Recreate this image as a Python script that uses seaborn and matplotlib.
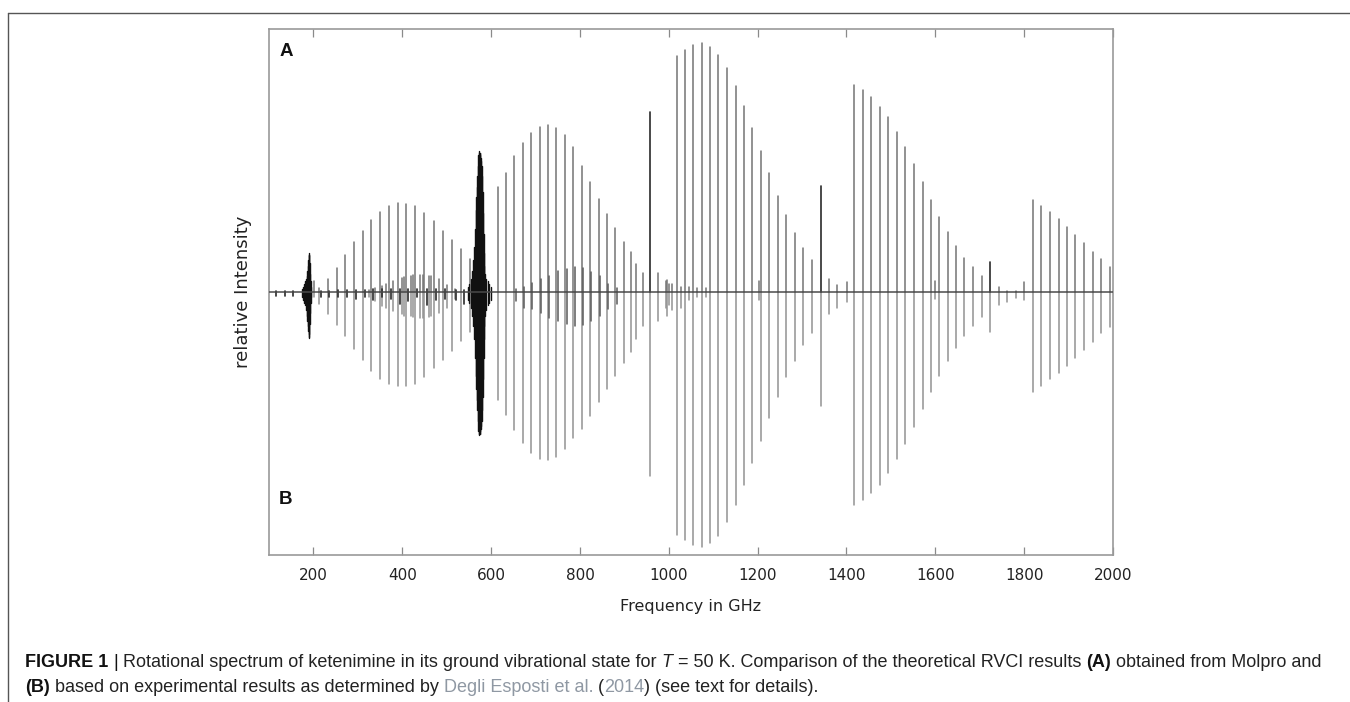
import matplotlib
matplotlib.use("Agg")
import matplotlib.pyplot as plt
from matplotlib.lines import Line2D
import pandas as pd
import seaborn as sns

# ---------------- data (GHz, relative intensity) ----------------
# narrow cluster near 190 GHz (dark)
c1_freq = [174, 177, 179, 181, 183, 185, 186, 187, 188, 189, 190, 191, 192, 193, 194, 195]
c1_up = [0.01, 0.02, 0.03, 0.04, 0.05, 0.06, 0.08, 0.10, 0.12, 0.14, 0.147, 0.14, 0.11, 0.07, 0.04, 0.02]
c1_down = [0.02, 0.03, 0.04, 0.05, 0.07, 0.09, 0.11, 0.13, 0.15, 0.17, 0.174, 0.16, 0.12, 0.08, 0.04, 0.02]

# dense cluster near 575 GHz (dark)
c2_freq = [548, 551, 554, 557, 559, 561, 563, 565, 567, 568, 569, 570, 571, 572, 573, 574,
           575, 576, 577, 578, 579, 580, 581, 582, 583, 584, 585, 587, 589, 592, 595, 599]
c2_up = [0.02, 0.03, 0.05, 0.08, 0.12, 0.17, 0.24, 0.31, 0.36, 0.40, 0.44, 0.48, 0.52, 0.53, 0.536, 0.53,
         0.52, 0.53, 0.51, 0.50, 0.48, 0.44, 0.38, 0.30, 0.22, 0.15, 0.10, 0.07, 0.05, 0.04, 0.03, 0.02]
c2_down = [0.03, 0.04, 0.06, 0.09, 0.13, 0.18, 0.25, 0.32, 0.37, 0.41, 0.45, 0.49, 0.53, 0.54, 0.542, 0.54,
           0.53, 0.54, 0.52, 0.51, 0.49, 0.45, 0.40, 0.33, 0.25, 0.18, 0.13, 0.09, 0.07, 0.05, 0.04, 0.03]

# grey comb 200-555 GHz
g1_freq = [201, 212.6, 232, 252.3, 271.8, 291.4, 310.9, 330.4, 349.9, 370.1,
           389.7, 409.2, 429.4, 449.7, 470.7, 491.7, 512, 532.2, 552.5]
g1_up = [0.04, 0.017, 0.05, 0.092, 0.14, 0.19, 0.233, 0.274, 0.306, 0.328,
         0.337, 0.335, 0.326, 0.30, 0.27, 0.233, 0.196, 0.162, 0.126]
g1_down = [0.02, 0.046, 0.084, 0.124, 0.169, 0.216, 0.26, 0.30, 0.329, 0.348,
           0.356, 0.356, 0.35, 0.322, 0.29, 0.26, 0.225, 0.188, 0.153]

# weak inner comb 320-520 GHz
g2_freq = [325, 338.6, 355, 362.6, 379, 398.7, 404, 419, 424, 441, 446.7, 460, 465.4, 482.7, 501.5, 518.7]
g2_up = [0.006, 0.014, 0.023, 0.03, 0.04, 0.054, 0.056, 0.061, 0.064, 0.065, 0.065, 0.06, 0.06, 0.048, 0.026, 0.01]
g2_down = [0.02, 0.036, 0.053, 0.059, 0.072, 0.084, 0.09, 0.092, 0.094, 0.097, 0.097, 0.094, 0.09, 0.078, 0.059, 0.028]

# small dark ticks at the baseline, 100-560 GHz
t_freq = [116, 136, 155, 217, 236, 256, 276, 296, 315, 335, 355, 374, 394, 414, 434, 455, 476, 497, 520, 540]
t_up = [0.003, 0.003, 0.003, 0.005, 0.005, 0.006, 0.006, 0.008, 0.008, 0.01, 0.01, 0.012, 0.012,
        0.012, 0.012, 0.012, 0.01, 0.01, 0.008, 0.006]
t_down = [0.015, 0.015, 0.015, 0.02, 0.02, 0.02, 0.02, 0.025, 0.02, 0.03, 0.02, 0.025, 0.045,
          0.035, 0.02, 0.05, 0.03, 0.025, 0.03, 0.045]

# grey comb 610-945 GHz
g3_freq = [614.8, 633.5, 652.3, 671.1, 690, 709, 728, 747, 766, 785,
           804, 823, 842, 861, 880, 899, 914, 927, 943]
g3_up = [0.40, 0.454, 0.516, 0.565, 0.606, 0.629, 0.636, 0.623, 0.597, 0.551,
         0.48, 0.42, 0.355, 0.295, 0.245, 0.19, 0.153, 0.108, 0.073]
g3_down = [0.41, 0.467, 0.523, 0.573, 0.614, 0.636, 0.64, 0.626, 0.598, 0.557,
           0.52, 0.47, 0.42, 0.37, 0.32, 0.27, 0.228, 0.18, 0.13]

# weak inner comb 650-885 GHz
g4_freq = [655, 674, 693, 712, 731, 751, 770, 789, 807, 826, 845, 864, 883]
g4_up = [0.01, 0.02, 0.034, 0.049, 0.062, 0.079, 0.088, 0.095, 0.092, 0.075, 0.06, 0.03, 0.015]
g4_down = [0.034, 0.059, 0.065, 0.078, 0.097, 0.109, 0.122, 0.128, 0.125, 0.11, 0.09, 0.065, 0.046]

# isolated strong lines (dark in A)
iso_freq = [957.7, 1342, 1723.4]
iso_up = [0.685, 0.404, 0.115]
iso_down = [0.70, 0.433, 0.151]

# weak lines between the bands
w_freq = [976.5, 993, 997, 1001, 1008, 1027, 1045, 1064, 1083, 1203, 1360.7, 1379.5, 1400.5,
          1600, 1742.9, 1762, 1781, 1800.4]
w_up = [0.073, 0.04, 0.045, 0.03, 0.03, 0.02, 0.02, 0.015, 0.015, 0.04, 0.048, 0.027, 0.039,
        0.04, 0.018, 0.005, 0.005, 0.039]
w_down = [0.109, 0.06, 0.09, 0.05, 0.07, 0.06, 0.03, 0.02, 0.02, 0.03, 0.085, 0.062, 0.037,
          0.028, 0.049, 0.037, 0.024, 0.03]

# strong band 1015-1325 GHz
s5_freq = [1017.7, 1036.5, 1054.5, 1074, 1092.8, 1111.5, 1131.2, 1150.6, 1169.3,
           1188.1, 1207.6, 1226.4, 1245.1, 1263.9, 1283.4, 1302.9, 1322.4]
s5_up = [0.897, 0.92, 0.939, 0.946, 0.933, 0.901, 0.85, 0.783, 0.707,
         0.625, 0.536, 0.451, 0.366, 0.293, 0.226, 0.168, 0.122]
s5_down = [0.924, 0.943, 0.962, 0.968, 0.956, 0.928, 0.876, 0.81, 0.734,
           0.649, 0.565, 0.478, 0.398, 0.322, 0.261, 0.203, 0.155]

# band 1415-1705 GHz
s6_freq = [1417.7, 1436.5, 1455.3, 1475.5, 1494.3, 1513, 1532.6, 1552.1,
           1571.6, 1590.4, 1609.2, 1628, 1646.7, 1665.5, 1684.3, 1704.6]
s6_up = [0.787, 0.768, 0.74, 0.705, 0.667, 0.61, 0.55, 0.486,
         0.417, 0.35, 0.286, 0.227, 0.175, 0.13, 0.094, 0.061]
s6_down = [0.81, 0.791, 0.765, 0.734, 0.689, 0.636, 0.578, 0.512,
           0.446, 0.381, 0.319, 0.262, 0.212, 0.166, 0.128, 0.096]

# band 1820-2000 GHz
s7_freq = [1820, 1838.7, 1859, 1877.8, 1896.6, 1915.3, 1934.9, 1954.4, 1973.9, 1992.7]
s7_up = [0.35, 0.327, 0.303, 0.278, 0.248, 0.217, 0.185, 0.153, 0.125, 0.096]
s7_down = [0.379, 0.357, 0.332, 0.307, 0.281, 0.25, 0.221, 0.189, 0.157, 0.132]

x_ticks = [200, 400, 600, 800, 1000, 1200, 1400, 1600, 1800, 2000]

# ---------------- build stick segments ----------------
rows = []
def add(group, freqs, heights, sign):
    for f, h in zip(freqs, heights):
        sid = len(rows) // 2
        rows.append({"freq": f, "y": 0.0, "seg": sid, "group": group})
        rows.append({"freq": f, "y": sign * h, "seg": sid, "group": group})

for fr, up, dn in [(g1_freq, g1_up, g1_down), (g2_freq, g2_up, g2_down),
                   (g3_freq, g3_up, g3_down), (s5_freq, s5_up, s5_down),
                   (s6_freq, s6_up, s6_down), (s7_freq, s7_up, s7_down),
                   (w_freq, w_up, w_down)]:
    add("grey_up", fr, up, 1)
    add("grey_down", fr, dn, -1)
add("grey_down", iso_freq, iso_down, -1)
add("mid", g4_freq, g4_up, 1)
add("mid", g4_freq, g4_down, -1)
add("dark", iso_freq, iso_up, 1)
add("dark", t_freq, t_up, 1)
add("dark", t_freq, t_down, -1)
add("black", c1_freq, c1_up, 1)
add("black", c1_freq, c1_down, -1)
add("black", c2_freq, c2_up, 1)
add("black", c2_freq, c2_down, -1)
df = pd.DataFrame(rows)

# ---------------- figure ----------------
W, H = 1350, 702
sns.set_style("white")
plt.rcParams["font.family"] = ["DejaVu Sans"]

fig = plt.figure(figsize=(13.5, 7.02), dpi=100)
ax = fig.add_axes([269 / W, 1 - 555 / H, 844 / W, 526 / H])

styles = {"grey_down": ("#929292", 1.1), "grey_up": ("#747474", 1.1),
          "mid": ("#5a5a5a", 1.1), "dark": ("#2a2a2a", 1.2), "black": ("#111111", 1.0)}
for g in ["grey_down", "grey_up", "mid", "dark", "black"]:
    col, lw = styles[g]
    sns.lineplot(data=df[df.group == g], x="freq", y="y", units="seg", estimator=None,
                 sort=False, color=col, linewidth=lw, ax=ax, legend=False)

ax.axhline(0, color="#4a4a4a", lw=1.1, zorder=5)
ax.set_xlim(100, 2000)
ax.set_ylim(-1, 1)
ax.set_xticks(x_ticks)
ax.set_xticklabels([str(t) for t in x_ticks])
ax.set_yticks([])
ax.tick_params(axis="x", direction="in", length=5.5, width=0.9, color="#8a8a8a",
               top=True, bottom=True, labeltop=False, pad=9, labelsize=11, labelcolor="#222222")
for s in ax.spines.values():
    s.set_visible(True)
    s.set_color("#9a9a9a")
    s.set_linewidth(1.2)
ax.set_xlabel("Frequency in GHz", fontsize=11.5, color="#222222", labelpad=12)
ax.set_ylabel("relative Intensity", fontsize=13, color="#222222", labelpad=12)

ax.text(0.012, 0.958, "A", transform=ax.transAxes, fontsize=13.5, fontweight="bold",
        family="Liberation Sans", va="center", ha="left", color="#111111")
ax.text(0.012, 0.105, "B", transform=ax.transAxes, fontsize=13.5, fontweight="bold",
        family="Liberation Sans", va="center", ha="left", color="#111111")

# outer frame lines of the figure panel
fig.add_artist(Line2D([8 / W, 1.0], [1 - 13 / H, 1 - 13 / H], transform=fig.transFigure,
                      color="#555555", lw=1.0))
fig.add_artist(Line2D([8 / W, 8 / W], [1 - 13 / H, 0.0], transform=fig.transFigure,
                      color="#555555", lw=1.0))

# ---------------- caption ----------------
cap_size = 13
renderer = fig.canvas.get_renderer()
space_px = 0.278 * cap_size * 100 / 72
link = "#8f98a3"

def caption_line(pieces, x0, y0):
    x = x0
    for text, weight, style, color, gap in pieces:
        t = fig.text(x / W, 1 - y0 / H, text, fontsize=cap_size, fontweight=weight,
                     fontstyle=style, color=color, family="Liberation Sans",
                     ha="left", va="baseline")
        bb = t.get_window_extent(renderer)
        x = bb.x1 + (space_px if gap else 0)

line1 = [("FIGURE 1", "bold", "normal", "#111111", True),
         ("|", "normal", "normal", "#111111", True),
         ("Rotational spectrum of ketenimine in its ground vibrational state for", "normal", "normal", "#222222", True),
         ("T", "normal", "italic", "#222222", True),
         ("= 50 K. Comparison of the theoretical RVCI results", "normal", "normal", "#222222", True),
         ("(A)", "bold", "normal", "#111111", True),
         ("obtained from Molpro and", "normal", "normal", "#222222", False)]
line2 = [("(B)", "bold", "normal", "#111111", True),
         ("based on experimental results as determined by", "normal", "normal", "#222222", True),
         ("Degli Esposti et al.", "normal", "normal", link, True),
         ("(", "normal", "normal", "#222222", False),
         ("2014", "normal", "normal", link, False),
         (")", "normal", "normal", "#222222", True),
         ("(see text for details).", "normal", "normal", "#222222", False)]
caption_line(line1, 25, 667)
caption_line(line2, 25, 692)

fig.savefig("out.png", dpi=100)
